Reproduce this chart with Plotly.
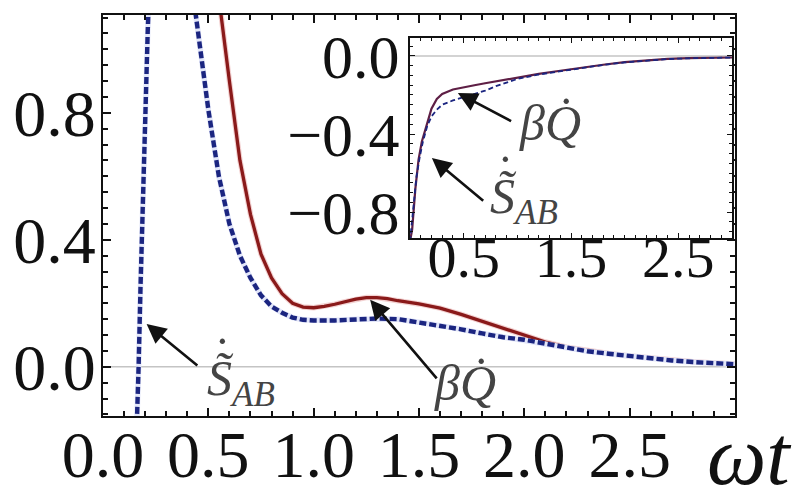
import plotly.graph_objects as go

# ---- main panel data (omega t vs. rates) ----
t_s = [0.150, 0.164, 0.169, 0.178, 0.188, 0.200, 0.212, 0.225, 0.26, 0.33, 0.40, 0.44,
       0.47, 0.50, 0.55, 0.60, 0.65, 0.70, 0.75, 0.80, 0.85, 0.90, 0.95, 1.00, 1.10,
       1.20, 1.30, 1.40, 1.50, 1.60, 1.70, 1.80, 1.90, 2.00, 2.10, 2.20, 2.30, 2.40,
       2.50, 2.60, 2.70, 2.80, 2.90, 3.00]
s_ab = [-0.40, -0.155, 0.0, 0.25, 0.526, 0.80, 1.05, 1.30, 1.70, 1.80, 1.50, 1.11,
        0.95, 0.81, 0.60, 0.45, 0.35, 0.28, 0.225, 0.19, 0.17, 0.155, 0.148, 0.146, 0.146,
        0.150, 0.152, 0.150, 0.140, 0.130, 0.118, 0.105, 0.093, 0.085, 0.072, 0.060, 0.049, 0.041,
        0.033, 0.026, 0.020, 0.015, 0.011, 0.008]

t_q = [0.50, 0.56, 0.60, 0.65, 0.70, 0.75, 0.80, 0.85, 0.90, 0.95, 1.00, 1.05, 1.10,
       1.15, 1.20, 1.25, 1.30, 1.35, 1.40, 1.50, 1.60, 1.70, 1.80, 1.90, 2.00, 2.10,
       2.20, 2.30, 2.40, 2.50, 2.60, 2.70, 2.80, 2.90, 3.00]
beta_q = [1.50, 1.11, 0.90, 0.65, 0.48, 0.355, 0.28, 0.23, 0.20, 0.188, 0.186, 0.19, 0.197,
          0.205, 0.213, 0.218, 0.218, 0.215, 0.208, 0.198, 0.185, 0.165, 0.143, 0.120, 0.098, 0.078,
          0.062, 0.051, 0.042, 0.034, 0.027, 0.021, 0.016, 0.012, 0.009]

# ---- inset data ----
ti_q = [0.0, 0.02, 0.05, 0.08, 0.11, 0.15, 0.20, 0.25, 0.30, 0.40, 0.50, 0.60, 0.70,
        0.80, 0.90, 1.00, 1.20, 1.40, 1.60, 1.80, 2.00, 2.20, 2.40, 2.60, 2.80, 3.00]
inset_q = [-0.95, -0.89, -0.68, -0.53, -0.44, -0.36, -0.27, -0.22, -0.195, -0.172, -0.160,
           -0.150, -0.140, -0.130, -0.120, -0.110, -0.092, -0.076, -0.060, -0.045, -0.032,
           -0.022, -0.015, -0.011, -0.009, -0.008]

ti_s = [0.0, 0.03, 0.06, 0.09, 0.12, 0.16, 0.20, 0.25, 0.30, 0.40, 0.50, 0.60, 0.70,
        0.80, 0.90, 1.00, 1.20, 1.40, 1.60, 1.80, 2.00, 2.20, 2.40, 2.60, 2.80, 3.00]
inset_s = [-0.95, -0.80, -0.62, -0.52, -0.44, -0.36, -0.31, -0.275, -0.25, -0.228, -0.212,
           -0.195, -0.178, -0.155, -0.135, -0.118, -0.095, -0.078, -0.061, -0.046, -0.033,
           -0.023, -0.016, -0.012, -0.009, -0.008]

main_xticks = [0.0, 0.5, 1.0, 1.5, 2.0, 2.5]
main_yticks = [0.0, 0.4, 0.8]
inset_xticks = [0.5, 1.5, 2.5]
inset_yticks = [0.0, -0.4, -0.8]

RED = "#8a1a1a"
RED_HALO = "#f3d2d2"
NAVY = "#1b2580"
HALO = "#e2e6f9"
SERIF = "Liberation Serif"
INK = "#111111"

# plot-area geometry in pixels
W, H = 795, 489
L, R, T, B = 103, 60, 15, 73
PW, PH = W - L - R, H - T - B


def px_x(px):
    return (px - L) / PW


def px_y(py):
    return (H - B - py) / PH


fig = go.Figure()

# main curves
fig.add_trace(go.Scatter(x=t_q, y=beta_q, mode="lines",
                         line=dict(color=RED_HALO, width=5.5), xaxis="x", yaxis="y"))
fig.add_trace(go.Scatter(x=t_q, y=beta_q, mode="lines",
                         line=dict(color=RED, width=3.3), xaxis="x", yaxis="y"))
fig.add_trace(go.Scatter(x=t_s, y=s_ab, mode="lines",
                         line=dict(color=HALO, width=5.5), xaxis="x", yaxis="y"))
fig.add_trace(go.Scatter(x=t_s, y=s_ab, mode="lines",
                         line=dict(color=NAVY, width=4.4, dash="7px,3px"), xaxis="x", yaxis="y"))

# inset curves
fig.add_trace(go.Scatter(x=ti_q, y=inset_q, mode="lines",
                         line=dict(color="#5e1f45", width=2.2), xaxis="x2", yaxis="y2"))
fig.add_trace(go.Scatter(x=ti_s, y=inset_s, mode="lines",
                         line=dict(color=NAVY, width=1.8, dash="5px,3px"), xaxis="x2", yaxis="y2"))


def frame_axis(size, **kw):
    base = dict(showline=True, linecolor=INK, linewidth=2, mirror="allticks",
                ticks="inside", tickcolor=INK, showgrid=False, zeroline=False,
                automargin=False, tickfont=dict(family=SERIF, size=size, color=INK))
    base.update(kw)
    return base


fig.update_layout(
    width=W, height=H,
    margin=dict(l=L, r=R, t=T, b=B),
    paper_bgcolor="white", plot_bgcolor="white",
    showlegend=False,
    xaxis=frame_axis(66, range=[0, 3], tickvals=main_xticks,
                     ticktext=[f"{v:.1f}" for v in main_xticks], ticklen=8, tickwidth=1.5,
                     ticklabelstandoff=-20,
                     minor=dict(dtick=0.1, ticklen=5, ticks="inside", tickcolor=INK)),
    yaxis=frame_axis(66, range=[-0.155, 1.108], tickvals=main_yticks,
                     ticktext=[f"{v:.1f}" for v in main_yticks], ticklen=8, tickwidth=1.5,
                     ticklabelstandoff=-8,
                     minor=dict(dtick=0.05, ticklen=5, ticks="inside", tickcolor=INK)),
    xaxis2=frame_axis(58, domain=[px_x(410), px_x(732)], anchor="y2", range=[0, 3],
                      tickvals=inset_xticks, ticktext=[f"{v:.1f}" for v in inset_xticks],
                      ticklen=5, tickwidth=1.2, ticklabelstandoff=-33,
                      minor=dict(dtick=0.1, ticklen=3, ticks="inside", tickcolor=INK)),
    yaxis2=frame_axis(62, domain=[px_y(238), px_y(38)], anchor="x2", range=[-0.933, 0.092],
                      tickvals=inset_yticks,
                      ticktext=["0.0", "\u22120.4", "\u22120.8"],
                      ticklen=5, tickwidth=1.2, ticklabelstandoff=-4,
                      minor=dict(dtick=0.05, ticklen=3, ticks="inside", tickcolor=INK)),
)

# zero reference lines
fig.add_shape(type="line", xref="x", yref="y", x0=0, x1=3, y0=0, y1=0,
              line=dict(color="#c4c4c4", width=1.6), layer="below")
fig.add_shape(type="line", xref="x2", yref="y2", x0=0, x1=3, y0=0, y1=0,
              line=dict(color="#c4c4c4", width=1.6), layer="below")

LABEL_INK = "#444444"
S_LABEL = "<i>S\u0303</i><sub><i>AB</i></sub>"
Q_LABEL = "<i>\u03b2Q\u0307</i>"


def arrow(xref, yref, tip, tail):
    fig.add_annotation(xref=xref, yref=yref, axref=xref, ayref=yref,
                       x=tip[0], y=tip[1], ax=tail[0], ay=tail[1], text="",
                       showarrow=True, arrowhead=2, arrowsize=1.5, arrowwidth=2.6,
                       arrowcolor=INK, standoff=0, startstandoff=0)


def q_label(xref, yref, pos, size=50):
    fig.add_annotation(xref=xref, yref=yref, x=pos[0], y=pos[1], text=Q_LABEL,
                       showarrow=False, xanchor="center", yanchor="middle",
                       font=dict(family=SERIF, size=size, color=LABEL_INK))


def s_label(xref, yref, pos, size=50):
    # S with tilde, subscript AB; the time-derivative dot sits above the tilde
    fig.add_annotation(xref=xref, yref=yref, x=pos[0], y=pos[1], text=S_LABEL,
                       showarrow=False, xanchor="left", yanchor="middle",
                       font=dict(family=SERIF, size=size, color=LABEL_INK))
    fig.add_annotation(xref=xref, yref=yref, x=pos[0], y=pos[1], text="\u02d9",
                       showarrow=False, xanchor="left", yanchor="middle",
                       xshift=0.14 * size, yshift=0.54 * size,
                       font=dict(family=SERIF, size=size, color=LABEL_INK))


# main annotations
arrow("x", "y", (0.207, 0.135), (0.455, 0.0))
s_label("x", "y", (0.485, -0.047))
arrow("x", "y", (1.268, 0.211), (1.59, -0.041))
q_label("x", "y", (1.72, -0.05))

# inset annotations
arrow("x2", "y2", (0.446, -0.19), (0.956, -0.338))
q_label("x2", "y2", (1.30, -0.344))
arrow("x2", "y2", (0.204, -0.523), (0.696, -0.749))
s_label("x2", "y2", (0.73, -0.738))

# axis title placed beside the last tick label
fig.add_annotation(xref="paper", yref="paper", x=px_x(793), y=px_y(455),
                   text="<i>\u03c9t</i>", showarrow=False,
                   xanchor="right", yanchor="middle", borderpad=0,
                   font=dict(family=SERIF, size=84, color=INK))

fig.write_html("out.html")
